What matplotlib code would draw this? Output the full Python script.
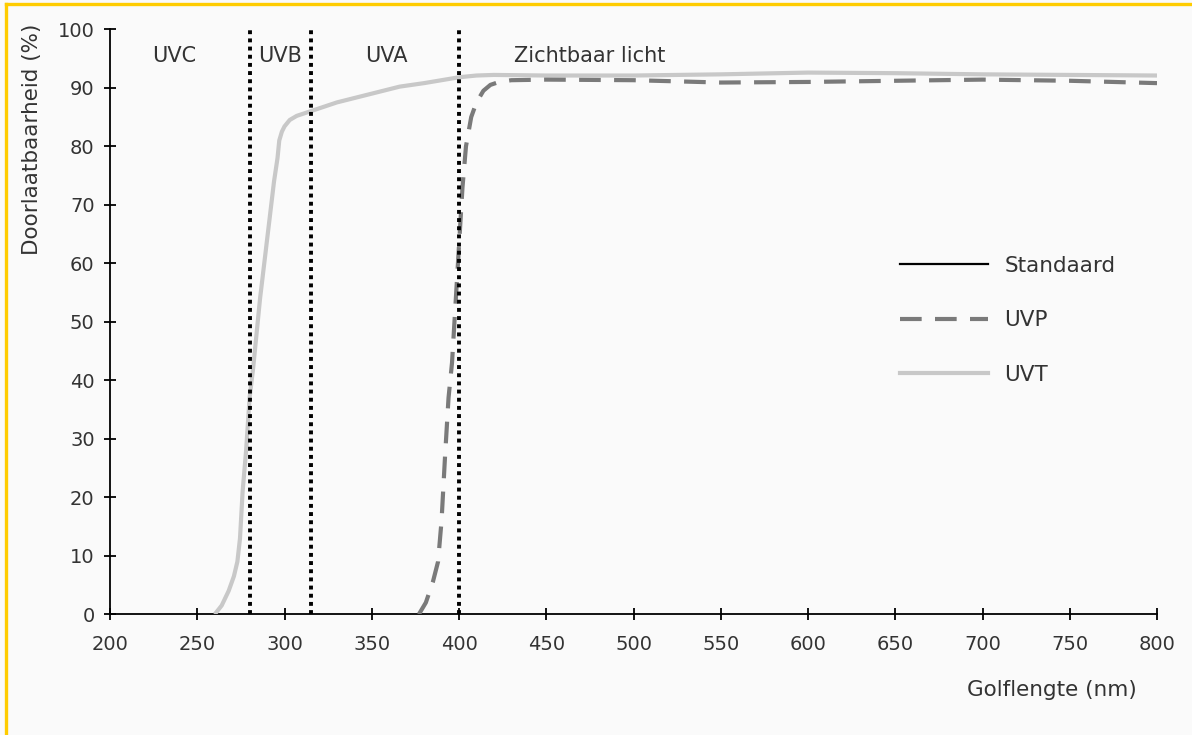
import matplotlib
matplotlib.use("Agg")
import matplotlib.pyplot as plt
from matplotlib.lines import Line2D

# ---- data ----
uvt_wl = [260, 264, 268, 271, 273, 274.5, 276, 278, 280, 282, 284, 286, 288, 290, 292, 294,
          296, 297, 298.5, 300, 303, 307, 315, 330, 350, 366, 380, 400, 410, 420, 450, 500,
          550, 600, 650, 700, 750, 800]
uvt_val = [0, 1.5, 4, 6.5, 9, 13, 21, 28, 37, 42, 48, 54, 59, 64, 69, 74,
           78, 81, 82.5, 83.4, 84.5, 85.2, 86, 87.5, 89, 90.2, 90.8, 91.8, 92.1, 92.2, 92.1, 92.1,
           92.3, 92.6, 92.5, 92.3, 92.2, 92.1]

uvp_wl = [377, 381, 385, 388, 390, 392, 394, 396, 398, 400, 402, 404, 407, 410, 414, 418,
          423, 430, 450, 500, 550, 600, 650, 700, 750, 800]
uvp_val = [0, 2, 5.5, 9, 16, 27, 37, 43, 53, 63, 73, 80, 85, 87.5, 89.5, 90.5,
           91, 91.3, 91.4, 91.3, 90.9, 91.0, 91.2, 91.4, 91.2, 90.8]

band_edges = [280, 315, 400]
band_labels = ["UVC", "UVB", "UVA", "Zichtbaar licht"]
band_label_x = [237, 297.5, 358.5, 431.5]
band_label_ha = ["center", "center", "center", "left"]

series_names = ["Standaard", "UVP", "UVT"]
x_ticks = list(range(200, 801, 50))
y_ticks = list(range(0, 101, 10))

# ---- figure ----
W, H = 1192, 735
fig = plt.figure(figsize=(W / 100, H / 100), dpi=100, facecolor="#fafafa")
ax = fig.add_axes([110 / W, 1 - 614.3 / H, 1047 / W, 585 / H])
ax.set_facecolor("#fafafa")

txt = "#333333"

ax.plot(uvt_wl, uvt_val, color="#c8c8c8", lw=3.0, solid_capstyle="butt", zorder=3)
ax.plot(uvp_wl, uvp_val, color="#7a7a7a", lw=3.0, dashes=(5.2, 3.2), zorder=3)
ax.vlines(band_edges, 0, 100, colors="black", lw=2.8, linestyles=[(0, (1, 1.1))], zorder=4)

for lab, x, ha in zip(band_labels, band_label_x, band_label_ha):
    ax.text(x, 95.5, lab, ha=ha, va="center", fontsize=15, color=txt)

ax.set_xlim(200, 800)
ax.set_ylim(0, 100)
ax.set_xticks(x_ticks)
ax.set_yticks(y_ticks)
for s in ["top", "right"]:
    ax.spines[s].set_visible(False)
for s in ["left", "bottom"]:
    ax.spines[s].set_linewidth(1.3)
    ax.spines[s].set_color("black")
ax.tick_params(axis="both", direction="inout", length=8, width=1.3, colors="black",
               labelcolor=txt, labelsize=14)
ax.tick_params(axis="x", pad=11)
ax.tick_params(axis="y", pad=7)

fig.text(32 / W, 1 - 24 / H, "Doorlaatbaarheid (%)", rotation=90, ha="center", va="top",
         fontsize=15.5, color=txt)
fig.text(1137 / W, 1 - 690 / H, "Golflengte (nm)", ha="right", va="center",
         fontsize=15.5, color=txt)

handles = [
    Line2D([], [], color="black", lw=1.6),
    Line2D([], [], color="#7a7a7a", lw=3.0, dashes=(5.2, 3.2)),
    Line2D([], [], color="#c8c8c8", lw=3.0),
]
leg = ax.legend(handles, series_names, loc="upper left",
                bbox_to_anchor=(900 / W, 1 - 256 / H), bbox_transform=fig.transFigure,
                frameon=False, fontsize=15.5, handlelength=4.1, handletextpad=0.75,
                labelspacing=1.6, borderpad=0, borderaxespad=0)
for t in leg.get_texts():
    t.set_color(txt)

# yellow frame edges (left and top)
fig.add_artist(Line2D([5.5 / W, 5.5 / W], [0, 1 - 3.5 / H], transform=fig.transFigure,
                      color="#ffcc00", lw=2.4))
fig.add_artist(Line2D([5.5 / W, 1], [1 - 3.5 / H, 1 - 3.5 / H], transform=fig.transFigure,
                      color="#ffcc00", lw=2.4))

fig.savefig("out.png", dpi=100, facecolor=fig.get_facecolor())
